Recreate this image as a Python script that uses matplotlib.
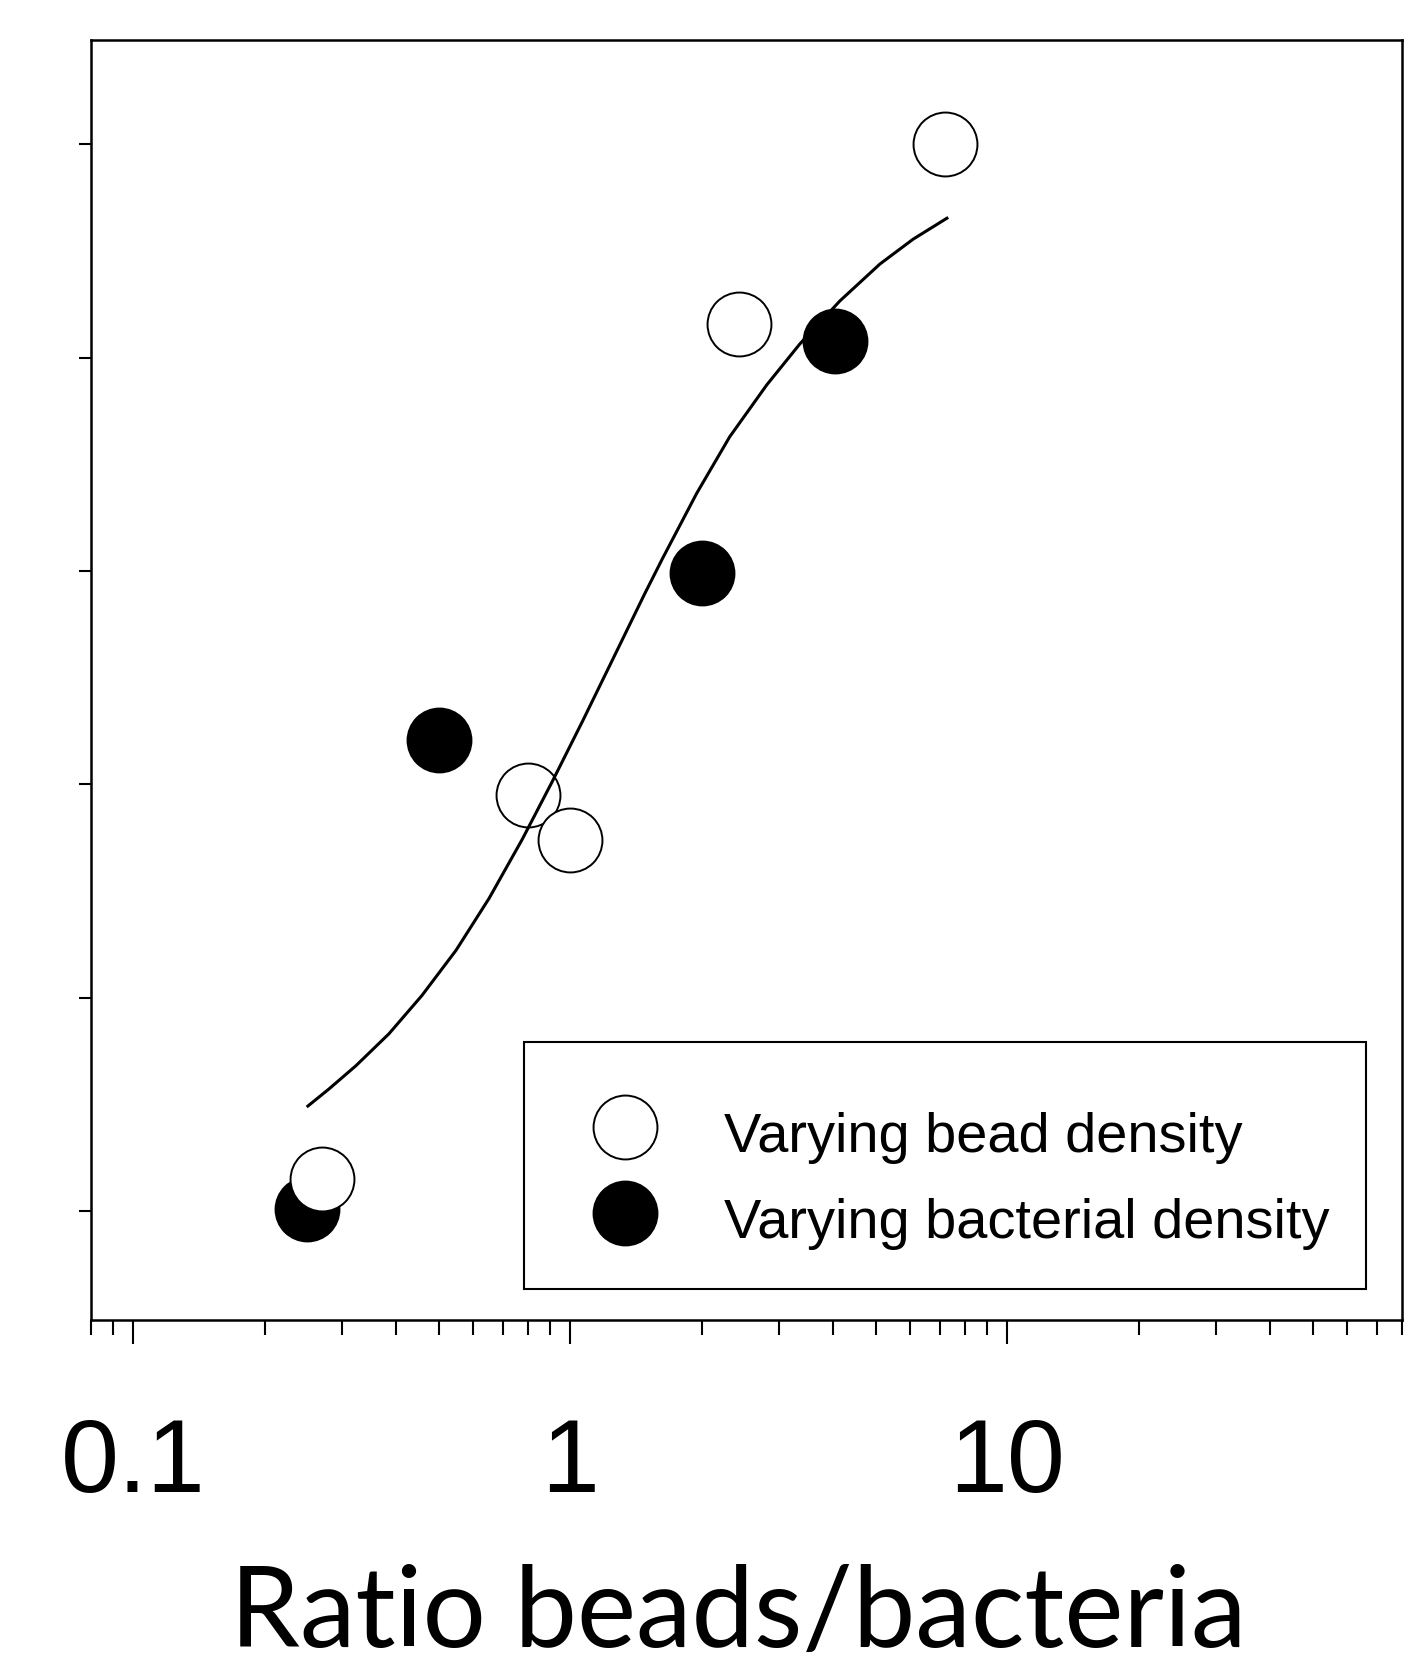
import matplotlib
matplotlib.use('Agg')
import matplotlib.pyplot as plt
from matplotlib.lines import Line2D
from matplotlib.ticker import FixedLocator, LogLocator, NullFormatter

# data (x = ratio beads/bacteria, y in tick units)
bead_x = [0.27, 0.80, 1.0, 2.43, 7.2]
bead_y = [0.15, 1.95, 1.74, 4.16, 5.0]

bact_x = [0.25, 0.50, 2.0, 4.03]
bact_y = [0.01, 2.21, 2.99, 4.08]

# fitted curve
fit_x = [0.2493, 0.2801, 0.3229, 0.3844, 0.4576, 0.5477, 0.6521, 0.7762, 0.9093,
         1.0654, 1.2617, 1.478, 1.626, 1.945, 2.316, 2.815, 3.351, 4.140, 5.113,
         6.087, 7.322]
fit_y = [0.488, 0.572, 0.681, 0.831, 1.011, 1.223, 1.467, 1.743, 2.014,
         2.295, 2.603, 2.892, 3.060, 3.364, 3.630, 3.873, 4.065, 4.267, 4.440,
         4.556, 4.658]

xticks = [0.1, 1, 10]
xticklabels = ['0.1', '1', '10']
yticks = [0, 1, 2, 3, 4, 5]

fig = plt.figure(figsize=(14.26, 16.63), dpi=100)
ax = fig.add_axes([0.0638, 0.2063, 0.9194, 0.7697])

ax.plot(bact_x, bact_y, 'o', ms=46, mfc='black', mec='black', mew=1.4, zorder=3)
ax.plot(bead_x, bead_y, 'o', ms=46, mfc='white', mec='black', mew=1.4, zorder=4)
ax.plot(fit_x, fit_y, '-', color='black', lw=2.2, zorder=5,
        solid_joinstyle='round', solid_capstyle='butt')

ax.set_xscale('log')
ax.set_xlim(0.08, 80)
ax.set_ylim(-0.51, 5.49)

ax.xaxis.set_major_locator(FixedLocator(xticks))
ax.set_xticklabels(xticklabels, fontsize=75, family='Liberation Sans')
ax.xaxis.set_minor_locator(LogLocator(base=10, subs=[2, 3, 4, 5, 6, 7, 8, 9]))
ax.xaxis.set_minor_formatter(NullFormatter())
ax.tick_params(axis='x', which='major', length=17, width=1.5, pad=53)
ax.tick_params(axis='x', which='minor', length=11, width=1.5)

ax.set_yticks(yticks)
ax.set_yticklabels([])
ax.tick_params(axis='y', length=9, width=1.5)

for s in ax.spines.values():
    s.set_linewidth(1.8)

ax.set_xlabel('Ratio beads/bacteria', fontsize=80.5, family='Lato', labelpad=36)
ax.xaxis.label.set_x(0.494)

handles = [Line2D([], [], ls='none', marker='o', ms=46, mfc='white', mec='black', mew=1.4),
           Line2D([], [], ls='none', marker='o', ms=46, mfc='black', mec='black', mew=1.4)]
# blank tiny title only adds a bit of room above the first row
leg = ax.legend(handles, ['Varying bead density', 'Varying bacterial density'],
                loc='lower right', bbox_to_anchor=(0.9725, 0.0242), borderaxespad=0,
                fancybox=False, edgecolor='black', framealpha=1,
                title=' ', title_fontsize=1,
                borderpad=0.66, labelspacing=0.38, handlelength=2.3, handleheight=1.4,
                handletextpad=0.61,
                prop={'family': 'Liberation Sans', 'size': 40.3})
leg.get_frame().set_linewidth(1.5)

plt.savefig('out.png', dpi=100)
